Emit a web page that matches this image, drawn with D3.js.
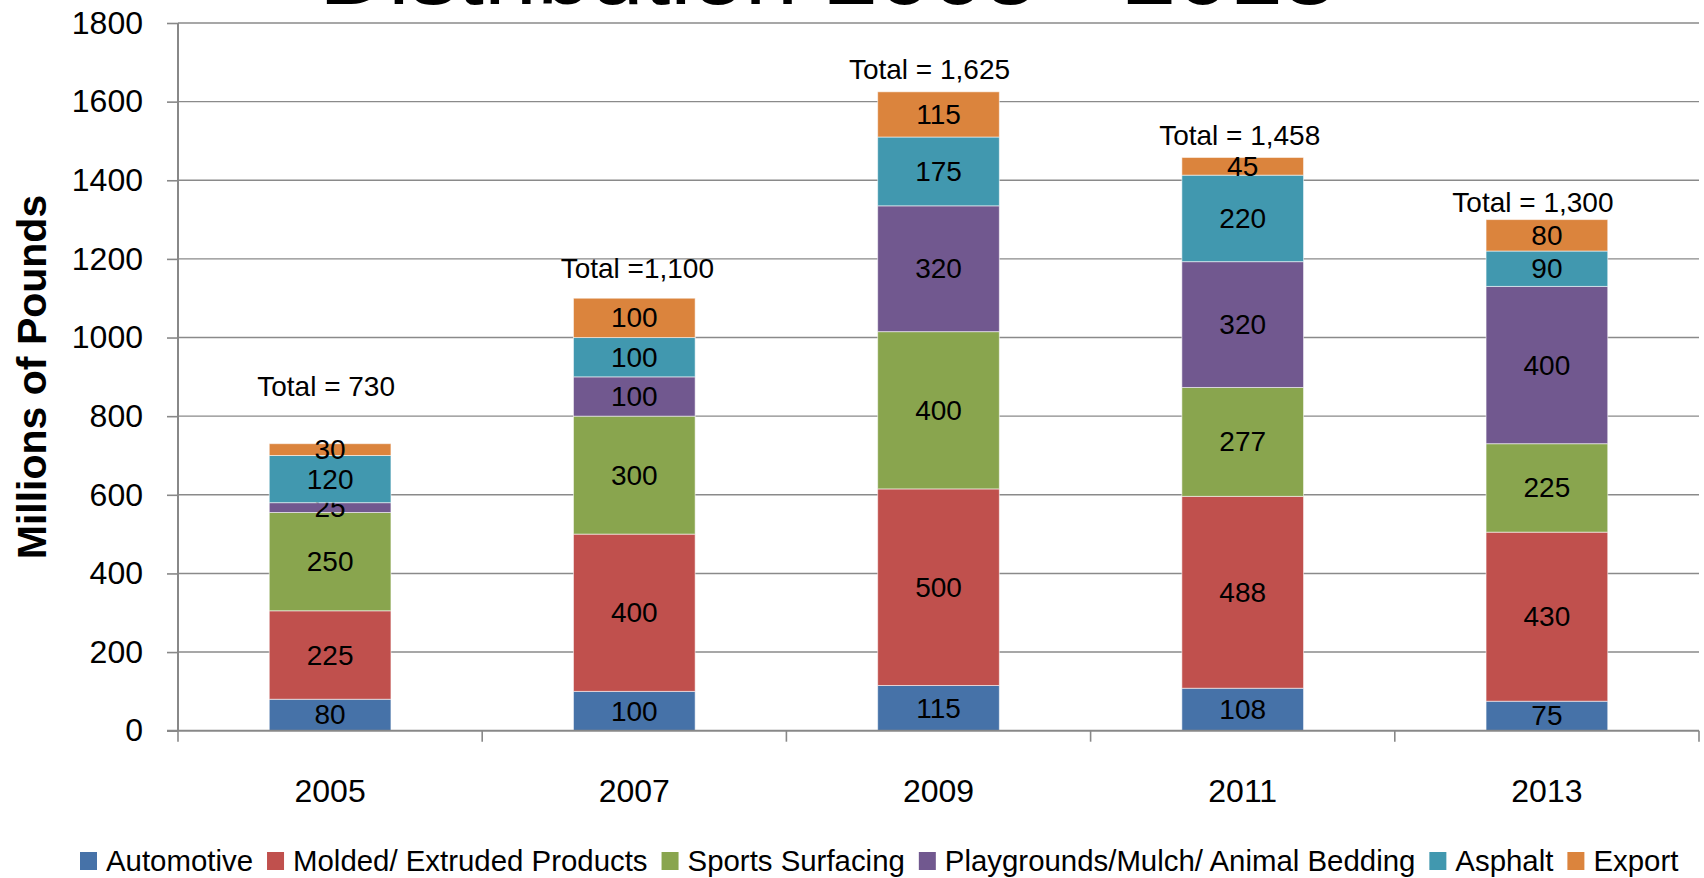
<!DOCTYPE html>
<html>
<head>
<meta charset="utf-8">
<script src="https://cdn.jsdelivr.net/npm/d3@7"></script>
<style>
  html, body { margin: 0; padding: 0; background: #fff; overflow: hidden; }
  svg { display: block; font-family: 'Liberation Sans', Arial, sans-serif; }
</style>
</head>
<body>
<div class="stacked-chart"></div>
<script>
const years = ['2005', '2007', '2009', '2011', '2013'];
const categories = [
  'Automotive',
  'Molded/ Extruded Products',
  'Sports Surfacing',
  'Playgrounds/Mulch/ Animal Bedding',
  'Asphalt',
  'Export',
];
const automotive = [80, 100, 115, 108, 75];
const molded = [225, 400, 500, 488, 430];
const sports = [250, 300, 400, 277, 225];
const playgrounds = [25, 100, 320, 320, 400];
const asphalt = [120, 100, 175, 220, 90];
const exports = [30, 100, 115, 45, 80];
const totalLabels = ['Total = 730', 'Total =1,100', 'Total = 1,625', 'Total = 1,458', 'Total = 1,300'];
const yTicks = [0, 200, 400, 600, 800, 1000, 1200, 1400, 1600, 1800];

const colorList = ['#4672A8', '#C0504D', '#89A54E', '#71588F', '#4198AF', '#DB843D'];

// hand-placed total labels in the original: px above bar top, px left/right
const labelLift = [48, 20, 13, 12, 8];
const labelShift = [-4, 3, -9, -3, -14];

const containerWidth = 1704;
const containerHeight = 878;
const margin = { top: 23, right: 5, bottom: 147, left: 178 };
const graphWidth = containerWidth - margin.left - margin.right;
const graphHeight = 730.7 - margin.top;

const series = [automotive, molded, sports, playgrounds, asphalt, exports];
const rows = years.map((year, i) => {
  const row = { year };
  categories.forEach((c, j) => (row[c] = series[j][i]));
  return row;
});

const svg = d3
  .select('.stacked-chart')
  .append('svg')
  .attr('width', containerWidth)
  .attr('height', containerHeight);

// title, mostly cut off at the top edge (as in the original)
svg
  .append('text')
  .attr('x', 319)
  .attr('y', 4)
  .attr('textLength', 1017)
  .attr('lengthAdjust', 'spacingAndGlyphs')
  .style('font-size', '86px')
  .attr('fill', '#000')
  .text('Distribution 2005 - 2013');

const graph = svg
  .append('g')
  .attr('transform', `translate(${margin.left}, ${margin.top})`);

const x = d3.scaleBand().domain(years).range([0, graphWidth]).padding(0);
const y = d3.scaleLinear().domain([0, 1800]).range([graphHeight, 0]);
const colors = d3.scaleOrdinal().domain(categories).range(colorList);

const barWidth = x.bandwidth() * 0.4;

// gridlines
graph
  .selectAll('.grid')
  .data(yTicks.slice(1))
  .enter()
  .append('line')
  .attr('class', 'grid')
  .attr('x1', 0)
  .attr('x2', graphWidth)
  .attr('y1', (d) => y(d))
  .attr('y2', (d) => y(d))
  .attr('stroke', '#8a8a8a')
  .attr('stroke-width', 1.4);

// y axis
const yAxis = graph
  .append('g')
  .call(
    d3
      .axisLeft(y)
      .tickValues(yTicks)
      .tickFormat(d3.format('d'))
      .tickSize(11)
      .tickPadding(24)
  );
yAxis.select('.domain').attr('stroke', '#888').attr('stroke-width', 2).attr('d', `M0,${graphHeight}V0`);
yAxis.selectAll('.tick line').attr('stroke', '#888').attr('stroke-width', 1.6);
yAxis
  .selectAll('.tick text')
  .style('font-size', '32px')
  .style('font-family', "'Liberation Sans', Arial, sans-serif")
  .attr('fill', '#000');

// stacked bars
const stack = d3.stack().keys(categories);
const layers = stack(rows);

const layerGroups = graph
  .selectAll('.layer')
  .data(layers)
  .enter()
  .append('g')
  .attr('class', 'layer')
  .attr('fill', (d) => colors(d.key));

layerGroups
  .selectAll('rect')
  .data((d) => d)
  .enter()
  .append('rect')
  .attr('x', (d) => x(d.data.year) + (x.bandwidth() - barWidth) / 2)
  .attr('y', (d) => y(d[1]))
  .attr('width', barWidth)
  .attr('height', (d) => y(d[0]) - y(d[1]))
  .attr('stroke', '#fff')
  .attr('stroke-opacity', 0.55)
  .attr('stroke-width', 1);

layerGroups
  .selectAll('text')
  .data((d) => d)
  .enter()
  .append('text')
  .attr('x', (d) => x(d.data.year) + x.bandwidth() / 2)
  .attr('y', (d) => (y(d[0]) + y(d[1])) / 2)
  .attr('text-anchor', 'middle')
  .attr('dominant-baseline', 'central')
  .style('font-size', '28px')
  .attr('fill', '#000')
  .text((d) => d[1] - d[0]);

// x axis
const xAxis = graph
  .append('g')
  .attr('transform', `translate(0, ${graphHeight})`)
  .call(d3.axisBottom(x).tickSize(0).tickPadding(49));
xAxis.select('.domain').attr('stroke', '#888').attr('stroke-width', 2).attr('d', `M-11,0H${graphWidth}`);
xAxis
  .selectAll('.tick text')
  .style('font-size', '32px')
  .style('font-family', "'Liberation Sans', Arial, sans-serif")
  .attr('fill', '#000');

const boundaries = years.map((yr) => x(yr)).concat([graphWidth]);
graph
  .selectAll('.xtick')
  .data(boundaries)
  .enter()
  .append('line')
  .attr('class', 'xtick')
  .attr('x1', (d) => d)
  .attr('x2', (d) => d)
  .attr('y1', graphHeight)
  .attr('y2', graphHeight + 11)
  .attr('stroke', '#888')
  .attr('stroke-width', 1.6);

// total labels
const totals = rows.map((r) => d3.sum(categories, (c) => r[c]));
graph
  .selectAll('.total')
  .data(totals)
  .enter()
  .append('text')
  .attr('class', 'total')
  .attr('x', (d, i) => x(years[i]) + x.bandwidth() / 2 + labelShift[i])
  .attr('y', (d, i) => y(d) - labelLift[i])
  .attr('text-anchor', 'middle')
  .style('font-size', '28px')
  .attr('fill', '#000')
  .text((d, i) => totalLabels[i]);

// y axis title
svg
  .append('text')
  .attr('transform', `translate(46, 377) rotate(-90)`)
  .attr('text-anchor', 'middle')
  .style('font-size', '41px')
  .style('font-weight', 'bold')
  .attr('fill', '#000')
  .text('Millions of Pounds');

// legend, flowed left to right
const legend = svg.append('g').attr('transform', 'translate(80, 0)');
let cursor = 0;
categories.forEach((c) => {
  legend
    .append('rect')
    .attr('x', cursor)
    .attr('y', 852)
    .attr('width', 17)
    .attr('height', 18)
    .attr('fill', colors(c));
  const t = legend
    .append('text')
    .attr('x', cursor + 26)
    .attr('y', 870.5)
    .style('font-size', '29.4px')
    .attr('fill', '#000')
    .text(c);
  cursor += 26 + t.node().getComputedTextLength() + 14;
});
</script>
</body>
</html>
